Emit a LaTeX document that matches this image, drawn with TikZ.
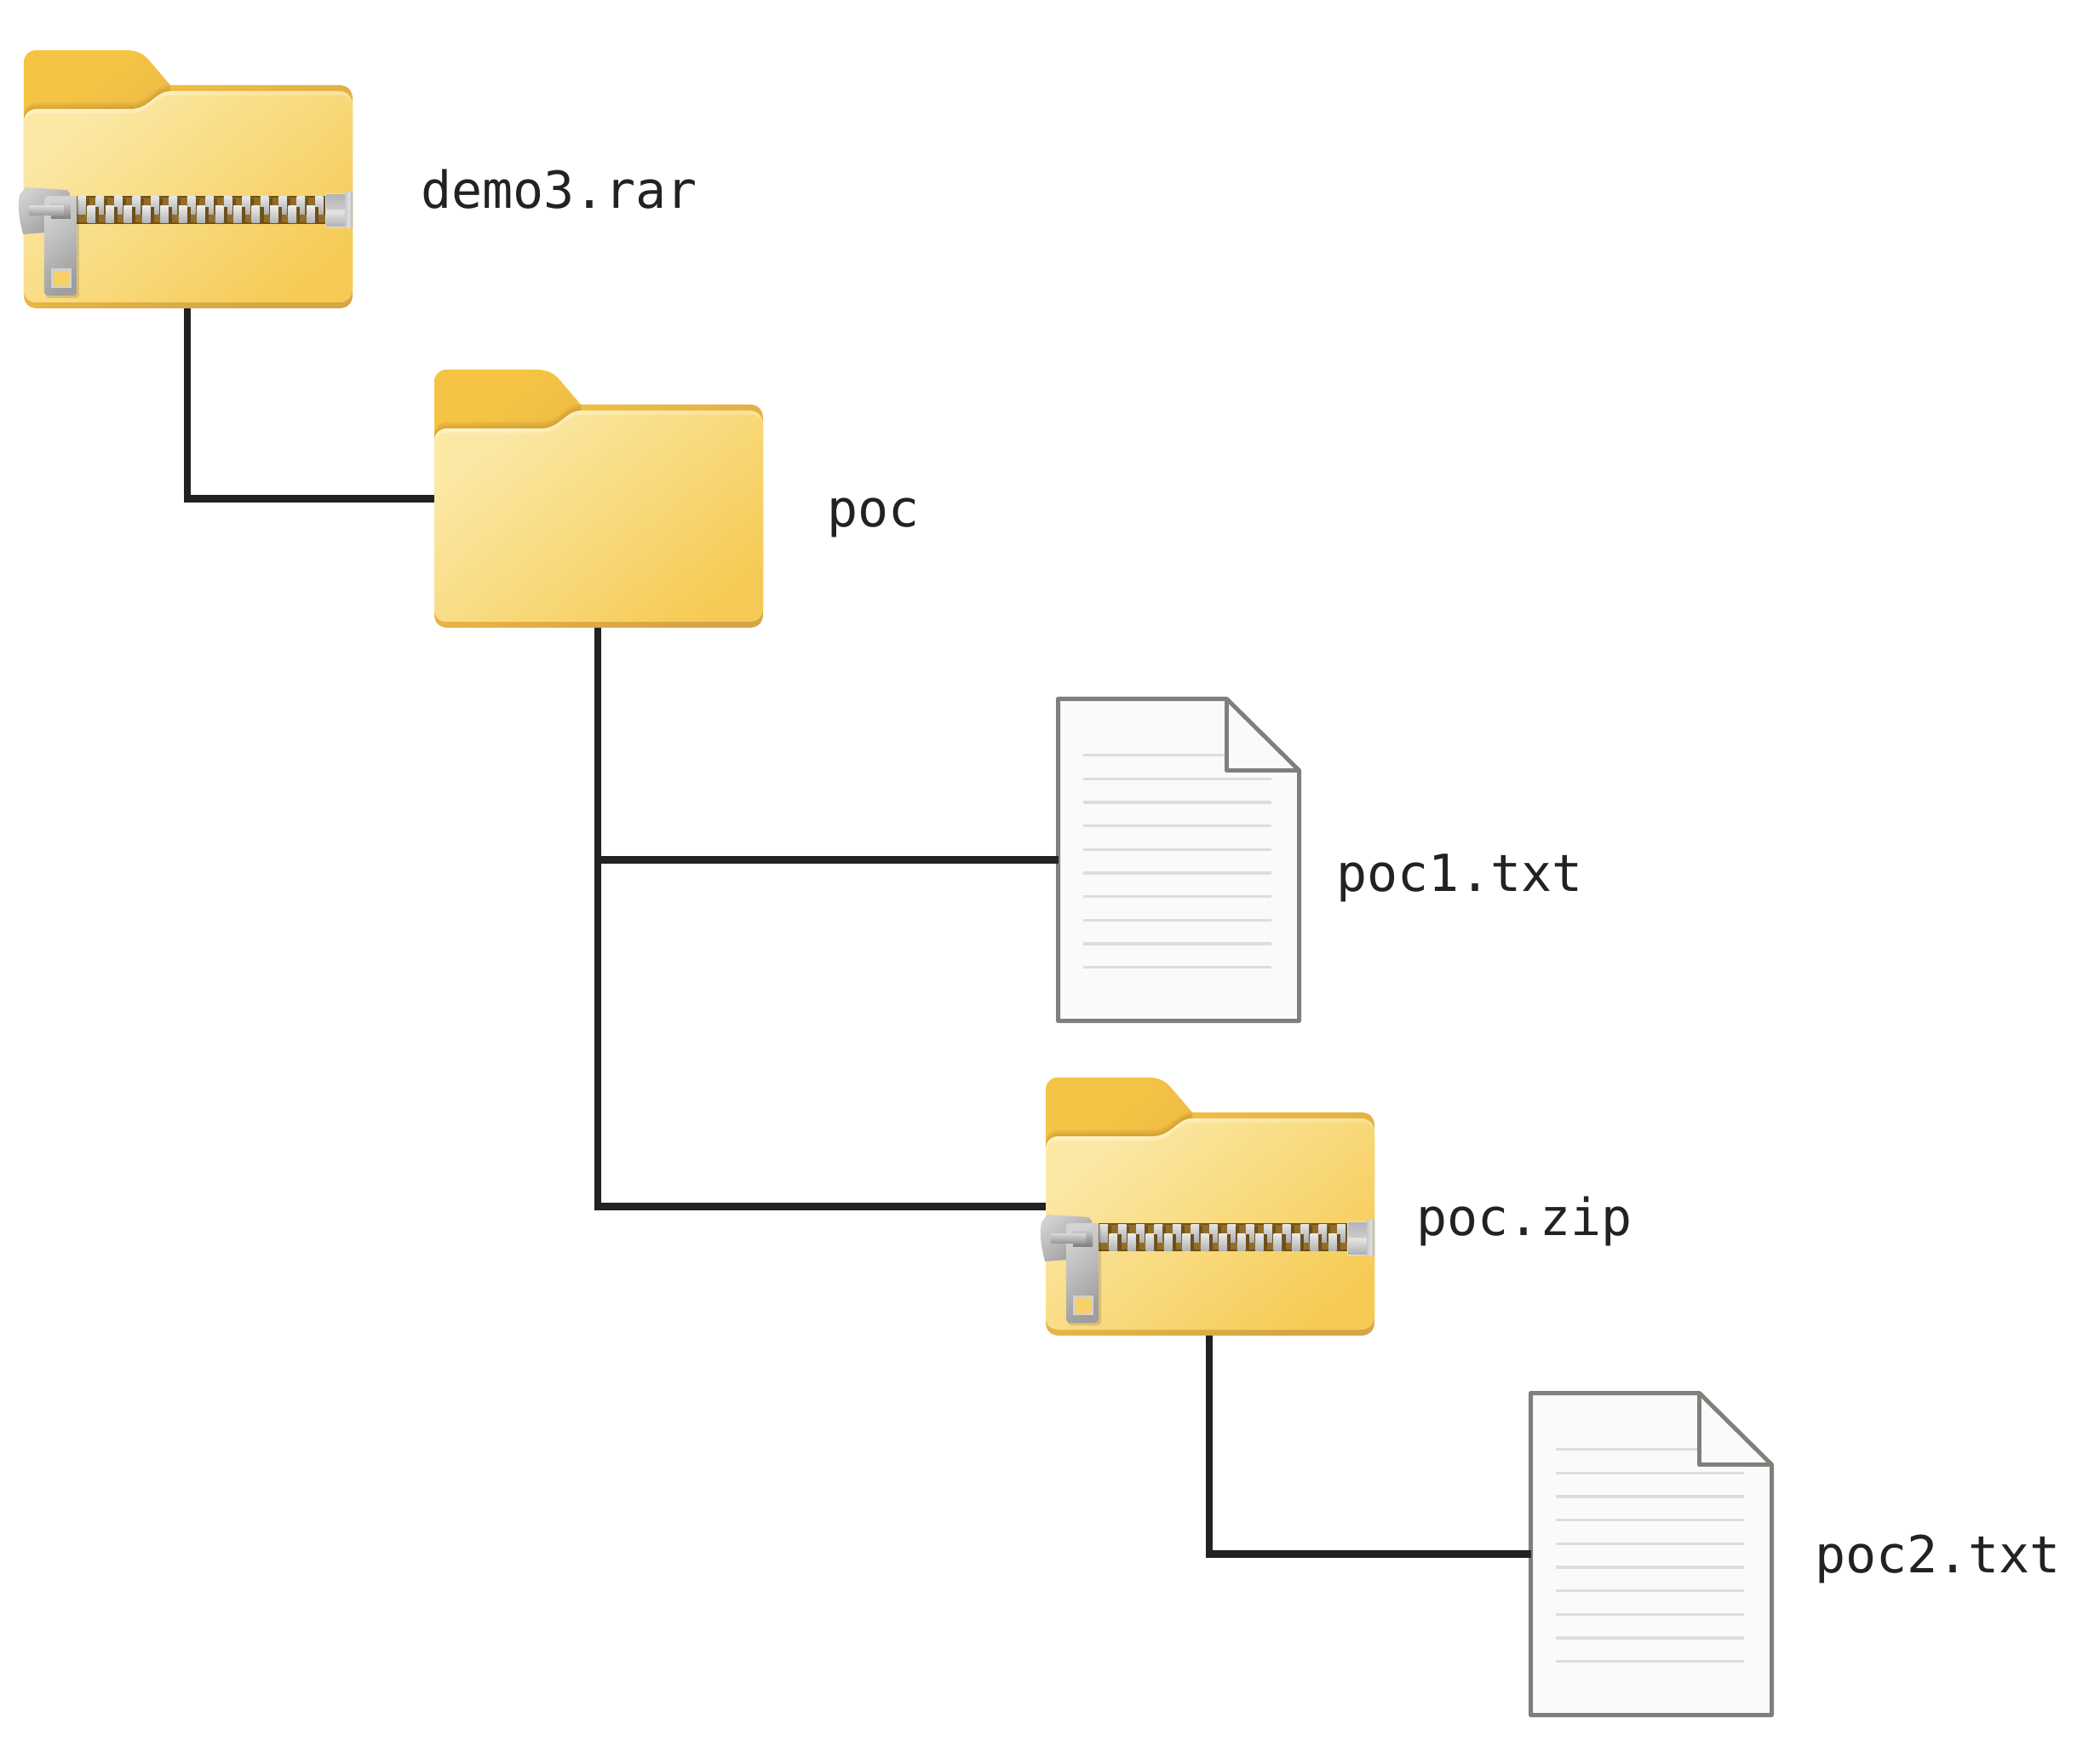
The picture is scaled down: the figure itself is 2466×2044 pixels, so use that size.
\documentclass[tikz,border=0pt]{standalone}
\usepackage{fontspec}
\setmonofont{DejaVu Sans Mono}
\usetikzlibrary{calc}
\definecolor{linkblack}{HTML}{222222}
\definecolor{filegray}{HTML}{7F7F7B}
\definecolor{filefill}{HTML}{FAFAFA}
\definecolor{rulegray}{HTML}{DDDDDD}
\definecolor{tapebrown}{HTML}{936D25}
\definecolor{tapedark}{HTML}{6C5019}
\definecolor{tabyellow}{HTML}{F6C444}
\definecolor{rimyellow}{HTML}{D6A546}
\definecolor{sheetlight}{HTML}{FBE8A5}
\definecolor{sheetdark}{HTML}{F6CB55}
\definecolor{edgelight}{HTML}{FFF0C0}
\definecolor{edgedark}{HTML}{F8D676}
\newcommand{\frontedge}{
    (0, 282) -- (0, 84)
    .. controls (0, 75) and (6, 69) .. (15, 69)
    -- (125, 69)
    .. controls (148, 69) and (154, 48) .. (172, 48)
    -- (370, 48)
    .. controls (379, 48) and (386, 54) .. (386, 64)
    -- (386, 280)
    .. controls (386, 290) and (379, 296) .. (370, 296)
    -- (16, 296)
    .. controls (7, 296) and (0, 291) .. (0, 282) -- cycle
}
\tikzset {
    folder box/.style = {minimum width = 153.6pt, minimum height = 121.2pt, inner sep = 0pt, outer sep = 0pt},
    file box/.style = {minimum width = 113.2pt, minimum height = 151.2pt, inner sep = 0pt, outer sep = 0pt},
    link/.style = {draw = linkblack, line width = 3.3pt},
    label text/.style = {anchor = base west, inner sep = 0pt, text = linkblack, font = \ttfamily\fontsize{24}{24}\selectfont},
    metal/.style = {left color = #1!45!white, right color = #1, shading angle = 40},
    folder/.pic = {
        \shade [left color = tabyellow, right color = rimyellow, shading angle = 40]
            (0, 287) -- (0, 14)
            .. controls (0, 6) and (6, 0) .. (14, 0)
            -- (120, 0)
            .. controls (133, 0) and (141, 4) .. (149, 14)
            -- (172, 41)
            -- (370, 41)
            .. controls (380, 41) and (386, 47) .. (386, 57)
            -- (386, 287)
            .. controls (386, 297) and (380, 303) .. (370, 303)
            -- (16, 303)
            .. controls (6, 303) and (0, 297) .. (0, 287) -- cycle;
        % soft shadow under the front sheet
        \begin{scope}
            \clip (0, 0) rectangle (172, 90);
            \foreach \d in {2, 4, 6, 8} {
                \fill [yshift = \d*0.4pt, black!60!orange, opacity = 0.05] \frontedge;
            }
        \end{scope}
        \shade [left color = edgelight, right color = edgedark, shading angle = 40] \frontedge;
        \begin{scope}
            \clip \frontedge;
            \shade [left color = sheetlight, right color = sheetdark, shading angle = 40, yshift = -2pt]
                (0, 310) -- (0, 84)
                .. controls (0, 75) and (6, 69) .. (15, 69)
                -- (125, 69)
                .. controls (148, 69) and (154, 48) .. (172, 48)
                -- (372, 48)
                .. controls (380, 48) and (386, 54) .. (386, 62)
                -- (386, 310) -- cycle;
        \end{scope}
    },
    zipper/.pic = {
        \fill [fill = tapedark] (62, 171) rectangle (354, 204);
        \fill [fill = tapebrown] (62, 173) rectangle (354, 202);
        \foreach \i in {0, ..., 13} {
            \fill [tapedark] ({71 + 21.45*\i}, 174) rectangle +(6, 19);
            \shade [top color = white!90!black, bottom color = white!68!black]
                ({63.3 + 21.45*\i}, 172) rectangle +(9.5, 21);
        }
        \foreach \i in {0, ..., 12} {
            \fill [tapedark] ({82.5 + 21.45*\i}, 184) rectangle +(6, 19);
            \shade [top color = white!92!black, bottom color = white!70!black]
                ({74.6 + 21.45*\i}, 183) rectangle +(9.5, 20);
        }
        \shade [top color = white!70!black, bottom color = white!80!black, draw = white!88!black, line width = 0.4pt] (354, 169) rectangle (377, 188);
        \shade [top color = white!90!black, bottom color = white!68!black, draw = white!88!black, line width = 0.4pt] (354, 189) rectangle (377, 208);
        \shade [left color = white!78!black, right color = white!70!black, middle color = white!88!black] (377, 167) rectangle (386, 209);
        % slider and pull tab
        \shade [metal = white!60!black] (2, 161) -- (50, 164) -- (54, 168) -- (54, 214) -- (25, 214) -- (-1, 216)
            .. controls (-5, 200) and (-8, 185) .. (-5, 170) -- cycle;
        \fill [black, opacity = 0.12, rounded corners = 1.6pt] (26, 173) rectangle (65, 291);
        \shade [metal = white!62!black, rounded corners = 1.6pt] (24, 171) rectangle (62, 288);
        \shade [top color = white!78!black, bottom color = white!50!black] (32, 180) rectangle (55, 198);
        \shade [top color = white!85!black, bottom color = white!60!black] (6, 183) rectangle (47, 194);
        \fill [fill = white!82!black] (32, 256) rectangle (56, 279);
        \fill [fill = sheetdark!80!sheetlight] (35, 259) rectangle (54, 277);
    },
    textfile/.pic = {
        \draw [draw = filegray, fill = filefill, line width = 2pt, line join = round]
            (0, 0) -- (198, 0) -- (283, 84) -- (283, 378) -- (0, 378) -- cycle;
        \draw [rulegray, line width = 1.3pt] (29, 66) -- (198, 66);
        \foreach \i in {1, ..., 9} {
            \draw [rulegray, line width = 1.3pt] (29, {66 + 27.7*\i}) -- (250, {66 + 27.7*\i});
        }
        \draw [draw = filegray, line width = 2pt, line join = round] (198, 0) -- (198, 84) -- (283, 84);
    }
}
\begin{document}
\begin{tikzpicture}[x = 0.4pt, y = -0.4pt]
    \useasboundingbox (0, 0) rectangle (2466, 2044);
    \node (demo3) [folder box] at (220, 210.5) {};
    \node (poc) [folder box] at (702, 585.5) {};
    \node (poc1) [file box] at (1384, 1009.5) {};
    \node (pocz) [folder box] at (1420, 1416.5) {};
    \node (poc2) [file box] at (1939, 1824.5) {};
    \pic at (demo3.north west) {folder};
    \pic at (demo3.north west) {zipper};
    \pic at (poc.north west) {folder};
    \pic at (pocz.north west) {folder};
    \pic at (pocz.north west) {zipper};
    \pic at (poc1.north west) {textfile};
    \pic at (poc2.north west) {textfile};
    \draw [link] (demo3.south) |- (poc.west);
    \draw [link] (poc.south) |- (poc1.west);
    \draw [link] (poc.south) |- (pocz.west);
    \draw [link] (pocz.south) |- (poc2.west);
    \node (demo3 text) [label text] at (493.5, 245) {demo3.rar};
    \node (poc text) [label text] at (970.5, 618) {poc};
    \node (poc1 text) [label text] at (1569, 1046) {poc1.txt};
    \node (pocz text) [label text] at (1663, 1450) {poc.zip};
    \node (poc2 text) [label text] at (2130.5, 1846) {poc2.txt};
\end{tikzpicture}
\end{document}
